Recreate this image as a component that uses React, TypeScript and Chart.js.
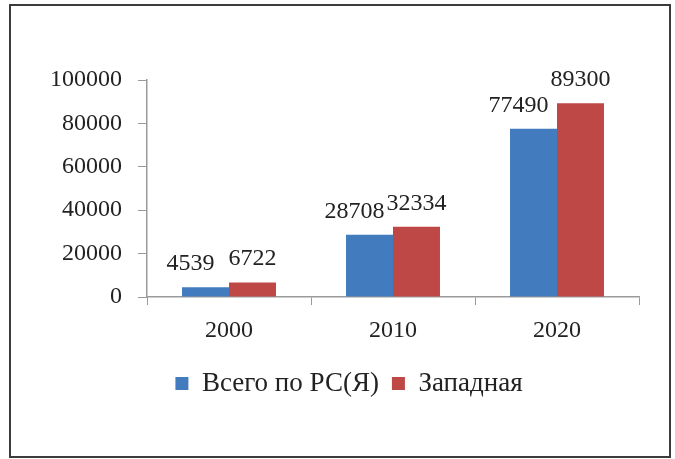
import React, { useEffect, useRef } from "react";
import { Chart, registerables } from "chart.js";

Chart.register(...registerables);

const categories = ["2000", "2010", "2020"];
const totalLabel = "Всего по РС(Я)";
const westLabel = "Западная";
const totalValues = [4539, 28708, 77490];
const westValues = [6722, 32334, 89300];
const yTicks = [0, 20000, 40000, 60000, 80000, 100000];

const FONT = '"Liberation Serif", "Times New Roman", serif';
const TEXT = "#222222";
const AXIS = "#9a9a9a";

const framePlugin = {
  id: "frame",
  afterLayout(chart: any) {
    if (chart.legend) {
      chart.legend.left += 7;
      chart.legend.right += 7;
    }
  },
  afterDraw(chart: any) {
    const ctx = chart.ctx;
    ctx.save();
    ctx.strokeStyle = "#3c3c3c";
    ctx.lineWidth = 2;
    ctx.strokeRect(10, 5, 660, 452);
    ctx.restore();
  },
};

const valueLabelPlugin = {
  id: "valueLabels",
  afterDatasetsDraw(chart: any) {
    const ctx = chart.ctx;
    ctx.save();
    ctx.font = "24px " + FONT;
    ctx.fillStyle = TEXT;
    ctx.textAlign = "center";
    ctx.textBaseline = "alphabetic";
    chart.data.datasets.forEach((ds: any, di: number) => {
      const meta = chart.getDatasetMeta(di);
      const shift = di === 0 ? -15 : 0;
      meta.data.forEach((bar: any, i: number) => {
        ctx.fillText(String(ds.data[i]), bar.x + shift, bar.y - 17);
      });
    });
    ctx.restore();
  },
};

export default function App() {
  const ref = useRef<HTMLCanvasElement>(null);
  useEffect(() => {
    if (!ref.current) return;
    const chart = new Chart(ref.current, {
      type: "bar",
      data: {
        labels: categories,
        datasets: [
          {
            label: totalLabel,
            data: totalValues,
            backgroundColor: "rgb(66,124,190)",
            categoryPercentage: 0.573,
            barPercentage: 1,
          },
          {
            label: westLabel,
            data: westValues,
            backgroundColor: "rgb(190,72,70)",
            categoryPercentage: 0.573,
            barPercentage: 1,
          },
        ],
      },
      options: {
        responsive: false,
        animation: false,
        layout: { padding: { left: 45, right: 36, top: 80, bottom: 52 } },
        plugins: {
          legend: {
            position: "bottom",
            labels: {
              boxWidth: 13,
              boxHeight: 13,
              padding: 13,
              color: TEXT,
              font: { family: FONT, size: 27 },
            },
          },
          tooltip: { enabled: false },
        },
        scales: {
          x: {
            grid: {
              offset: true,
              drawOnChartArea: false,
              tickLength: 8,
              color: AXIS,
            },
            border: { color: AXIS, width: 1.5 },
            ticks: {
              color: TEXT,
              font: { family: FONT, size: 24 },
              padding: 11,
            },
            afterFit(scale: any) {
              scale.height = 60;
            },
          },
          y: {
            min: 0,
            max: 100000,
            afterBuildTicks(scale: any) {
              scale.ticks = yTicks.map((v) => ({ value: v }));
            },
            grid: {
              drawOnChartArea: false,
              tickLength: 9,
              color: AXIS,
            },
            border: { color: AXIS, width: 1.5 },
            ticks: {
              color: TEXT,
              font: { family: FONT, size: 24 },
              padding: 16,
              callback: (v: any) => String(v),
            },
            afterFit(scale: any) {
              scale.width = 102;
            },
          },
        },
      },
      plugins: [framePlugin, valueLabelPlugin],
    } as any);
    return () => chart.destroy();
  }, []);
  return (
    <div style={{ position: "fixed", left: 0, top: 0, width: 675, height: 459, background: "#fff" }}>
      <canvas ref={ref} width={675} height={459} style={{ display: "block" }} />
    </div>
  );
}
